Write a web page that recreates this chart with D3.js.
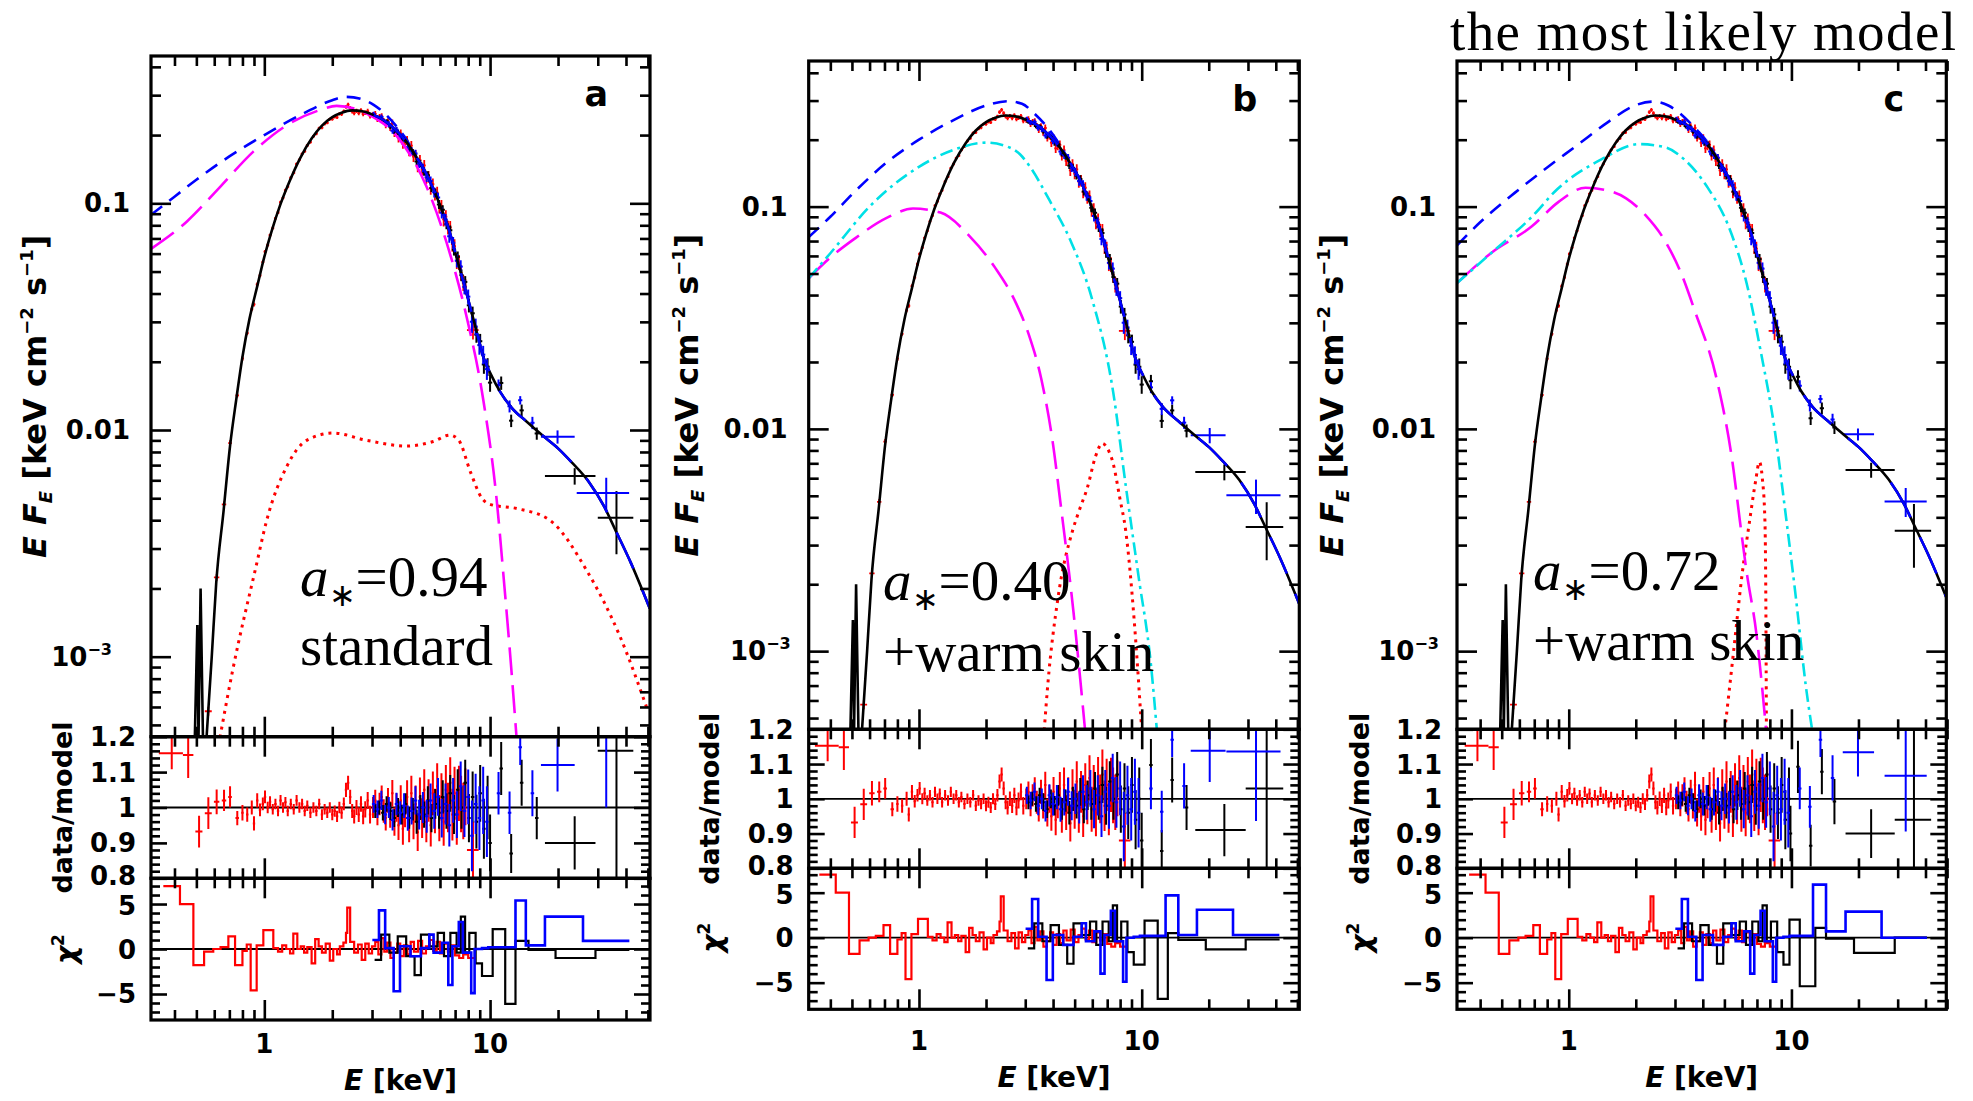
<!DOCTYPE html>
<html>
<head>
<meta charset="utf-8">
<script src="https://cdn.jsdelivr.net/npm/d3@7/dist/d3.min.js"></script>
<style>
html,body{margin:0;padding:0;background:#fff;}
svg{display:block;}
</style>
</head>
<body>
<svg id="chart" width="1973" height="1101"></svg>
<script>
// ======================= DATA =======================
const panelIds = ["a", "b", "c"];
const spinValues = ["0.94", "0.40", "0.72"];
const modelNames = ["standard", "+warm skin", "+warm skin"];
const figureTitle = "the most likely model";

const xMajorTicks = [1, 10];
const xMajorLabels = ["1", "10"];
const xMinorTicks = [0.4,0.5,0.6,0.7,0.8,0.9,2,3,4,5,6,7,8,9,20,30,40,50];
const fluxMajorTicks = [0.001, 0.01, 0.1];
const fluxMajorLabels = [["10","−3"], ["0.01",""], ["0.1",""]];
const ratioMajorTicks = [0.8, 0.9, 1.0, 1.1, 1.2];
const ratioMajorLabels = ["0.8","0.9","1","1.1","1.2"];
const chiMajorTicks = [-5, 0, 5];
const chiMajorLabels = ["−5","0","5"];

// total absorbed model, same in all panels  [E (keV), E F_E]
const modelTotal = [[0.555,4.43e-4],[0.585,1.0e-3],[0.612,2.1e-3],[0.66,4.4e-3],[0.705,8.5e-3],[0.75,0.0135],[0.80,0.021],[0.86,0.031],[0.93,0.043],[1.0,0.058],[1.08,0.076],[1.17,0.097],[1.28,0.122],[1.44,0.158],[1.62,0.193],[1.8,0.220],[2.0,0.240],[2.2,0.251],[2.45,0.257],[2.75,0.254],[3.05,0.245],[3.4,0.232],[3.8,0.212],[4.2,0.19],[4.7,0.161],[5.2,0.136],[5.6,0.116],[6.1,0.094],[6.64,0.074],[7.2,0.055],[7.87,0.040],[8.5,0.030],[9.33,0.021],[10.2,0.0172],[11.05,0.0148],[12.5,0.0125],[14.5,0.0109],[17.2,0.0094],[20,0.0083],[23,0.0072],[27.4,0.0059],[32,0.0046],[36,0.0036],[42,0.0026],[51,0.00163]];
// absorption-edge spikes of the model at low energy
const modelEdgeSpikes = [[0.492,4.3e-4],[0.505,1.38e-3],[0.511,4.3e-4],[0.522,2.0e-3],[0.535,4.3e-4]];

// unabsorbed total (blue dashed)
const unabsorbedA = [[0.315,0.089],[0.4,0.107],[0.5,0.127],[0.7,0.161],[1.0,0.2],[1.5,0.25],[2.0,0.285],[2.3,0.295],[2.7,0.288],[3.05,0.272],[3.4,0.250],[3.8,0.222],[4.2,0.195],[4.7,0.162]];
const unabsorbedB = [[0.32,0.073],[0.4,0.09],[0.507,0.115],[0.716,0.158],[1.0,0.2],[1.43,0.245],[2.0,0.285],[2.5,0.298],[2.9,0.29],[3.3,0.262],[3.8,0.225],[4.2,0.196],[4.7,0.162]];
const unabsorbedC = [[0.315,0.067],[0.4,0.085],[0.57,0.115],[0.8,0.15],[1.1,0.19],[1.5,0.24],[1.98,0.285],[2.4,0.297],[2.8,0.285],[3.2,0.26],[3.7,0.225],[4.2,0.195],[4.7,0.162]];

// disc component (magenta long dash)
const diskA = [[0.315,0.063],[0.453,0.083],[0.636,0.118],[0.894,0.169],[1.257,0.221],[1.765,0.258],[2.09,0.269],[2.84,0.249],[3.99,0.19],[5.24,0.118],[6.43,0.0667],[7.87,0.0316],[9.34,0.0135],[10.7,4.9e-3],[11.5,2.2e-3],[12.4,9e-4],[13.1,4.4e-4]];
const diskB = [[0.32,0.0476],[0.4,0.059],[0.507,0.071],[0.716,0.089],[0.94,0.098],[1.25,0.094],[1.69,0.0735],[2.2,0.053],[2.73,0.0367],[3.11,0.0266],[3.54,0.0168],[4.0,0.0085],[4.3,0.0048],[4.94,0.0015],[5.57,4.4e-4]];
const diskC = [[0.315,0.0453],[0.45,0.062],[0.683,0.0815],[0.9,0.105],[1.19,0.1216],[1.5,0.118],[1.81,0.109],[2.2,0.092],[2.7,0.0703],[3.2,0.05],[3.68,0.034],[4.6,0.017],[5.5,0.0065],[5.86,3.9e-3],[6.28,2.3e-3],[6.96,1.2e-3],[7.7,4.4e-4]];

// warm skin component (cyan dash-dot)
const skinB = [[0.32,0.0476],[0.4,0.0617],[0.6,0.1],[1.0,0.151],[1.43,0.18],[2.0,0.194],[2.5,0.186],[2.84,0.172],[3.11,0.154],[3.87,0.106],[4.8,0.070],[5.98,0.0385],[7.45,0.0146],[8.49,0.0055],[9.66,0.0022],[11.0,8.7e-4],[11.7,4.4e-4]];
const skinC = [[0.315,0.0453],[0.45,0.062],[0.683,0.09],[0.89,0.12],[1.4,0.163],[2.07,0.191],[2.7,0.185],[3.37,0.16],[4.2,0.122],[5.26,0.08],[6.3,0.045],[7.3,0.022],[8.4,0.01],[9.4,4.2e-3],[10.5,1.7e-3],[11.6,7e-4],[12.4,4.4e-4]];

// reflection / line component (red dotted)
const lineA = [[0.636,4.4e-4],[0.724,8.7e-4],[0.919,2.5e-3],[1.025,4.0e-3],[1.257,6.9e-3],[1.54,9.0e-3],[2.02,9.7e-3],[2.84,9.0e-3],[4.27,8.5e-3],[5.6,8.9e-3],[6.64,9.5e-3],[7.27,9.0e-3],[8.2,6.5e-3],[9.2,5.0e-3],[10.0,4.7e-3],[13.2,4.5e-3],[18.4,4.0e-3],[26.8,2.4e-3],[37.6,1.23e-3],[50.2,5.7e-4]];
const lineB = [[3.65,4.4e-4],[3.78,6.9e-4],[4.21,1.74e-3],[4.9,3.5e-3],[5.2,4.2e-3],[5.72,5.5e-3],[6.2,7.5e-3],[6.65,8.6e-3],[7.0,8.2e-3],[7.44,7.0e-3],[8.0,4.8e-3],[8.47,3.5e-3],[9.25,1.38e-3],[9.86,5.5e-4],[10.0,4.4e-4]];
const lineC = [[5.02,4.4e-4],[5.5,1.0e-3],[6.0,2.2e-3],[6.5,3.9e-3],[6.9,5.8e-3],[7.18,7.1e-3],[7.4,6.0e-3],[7.6,3.9e-3],[7.68,1.5e-3],[7.72,4.4e-4]];

// data/model ratio points  [E, ratio, error, Elow, Ehigh]
const ratioRed = [
 [0.389,1.153,0.045,0.341,0.436],[0.46,1.148,0.065,0.436,0.485],[0.514,0.932,0.045,0.495,0.532],[0.565,0.984,0.045,0.545,0.585],
 [0.615,1.016,0.035,0.598,0.632],[0.663,1.02,0.03,0.648,0.678],[0.705,1.03,0.03,0.692,0.718],[0.759,0.97,0.02,0.745,0.772],
 [0.80,0.985,0.022],[0.84,0.98,0.02],[0.88,1.0,0.02],[0.90,0.955,0.02],[0.93,1.02,0.02],[0.957,0.993,0.018],[0.985,1.01,0.018],
 [1.007,1.03,0.018],[1.035,1.0,0.016],[1.06,1.016,0.016],[1.09,0.995,0.015],[1.12,1.01,0.015],[1.15,0.99,0.015],[1.18,1.02,0.015],
 [1.21,1.0,0.015],[1.24,1.015,0.015],[1.27,0.99,0.015],[1.31,1.01,0.015],[1.35,0.995,0.015],[1.39,1.02,0.015],[1.43,1.0,0.015],
 [1.47,1.01,0.015],[1.51,0.99,0.015],[1.55,1.005,0.015],[1.6,0.985,0.015],[1.65,1.0,0.015],[1.7,0.99,0.015],[1.75,1.01,0.015],
 [1.8,0.98,0.015],[1.85,0.995,0.015],[1.9,0.985,0.015],[1.95,1.0,0.015],[2.0,0.98,0.016],[2.05,0.99,0.016],[2.1,0.975,0.016],
 [2.15,1.0,0.016],[2.2,0.985,0.017],[2.25,1.01,0.018],[2.3,1.05,0.02],[2.35,1.07,0.02],[2.4,1.03,0.02],[2.45,0.99,0.02],
 [2.5,0.975,0.02],[2.56,1.0,0.021],[2.62,0.98,0.021],[2.68,1.01,0.022],[2.74,0.975,0.022],[2.8,0.995,0.023],[2.87,1.02,0.024],
 [2.94,0.98,0.025],[3.03,1.00,0.03],[3.10,1.02,0.03],[3.17,0.98,0.03],[3.24,1.01,0.032],[3.31,1.03,0.032],[3.38,0.99,0.033],
 [3.45,0.97,0.035],[3.53,1.02,0.035],[3.61,0.98,0.037],[3.69,1.04,0.038],[3.77,0.96,0.04],[3.85,1.00,0.04],[3.93,0.95,0.042],
 [4.02,1.02,0.043],[4.11,0.94,0.045],[4.20,0.99,0.046],[4.29,1.03,0.047],[4.38,0.95,0.048],[4.48,1.04,0.05],[4.58,0.96,0.05],
 [4.68,1.01,0.052],[4.78,0.93,0.053],[4.89,1.03,0.055],[5.00,0.97,0.056],[5.11,1.05,0.058],[5.22,0.96,0.058],[5.34,1.02,0.06],
 [5.46,0.95,0.06],[5.58,1.04,0.062],[5.70,0.99,0.063],[5.83,1.06,0.065],[5.96,0.97,0.065],[6.09,1.03,0.067],[6.23,0.96,0.068],
 [6.37,1.05,0.07],[6.51,1.00,0.07],[6.66,1.07,0.072],[6.81,0.98,0.073],[6.96,1.04,0.075],[7.12,0.97,0.075],[7.28,1.04,0.078],
 [7.44,1.01,0.08],[7.61,0.99,0.08],[7.78,1.03,0.08],[8.4,0.88,0.08,7.9,8.9]
];
const ratioBlack = [
 [3.10,0.99,0.02],[3.22,1.00,0.02],[3.35,0.985,0.022],[3.48,1.01,0.022],[3.62,0.99,0.025],[3.76,0.97,0.025],[3.91,1.00,0.027],
 [4.06,0.98,0.028],[4.22,1.01,0.03],[4.38,0.97,0.03],[4.55,0.995,0.032],[4.73,0.96,0.034],[4.91,1.00,0.035],[5.10,0.98,0.037],
 [5.30,1.02,0.04],[5.50,0.97,0.04],[5.72,1.01,0.042],[5.94,0.985,0.045],[6.17,1.03,0.047],[6.41,0.99,0.05],[6.66,1.04,0.052],
 [6.92,0.98,0.055],[7.19,1.05,0.058],[7.47,1.00,0.06],[7.76,1.07,0.065],[8.06,0.97,0.068],[8.37,1.03,0.072],[8.70,0.96,0.076],
 [9.04,1.04,0.08],[9.39,0.94,0.085],[9.75,1.0,0.09]
];
const ratioBlue = [
 [3.05,1.01,0.025],[3.17,0.995,0.025],[3.30,1.02,0.027],[3.43,0.98,0.027],[3.56,1.00,0.03],[3.70,0.965,0.03],[3.85,1.01,0.032],
 [4.00,0.985,0.033],[4.16,1.005,0.035],[4.32,0.97,0.036],[4.49,0.99,0.038],[4.67,1.02,0.04],[4.85,0.98,0.042],[5.04,1.00,0.044],
 [5.24,0.975,0.046],[5.45,1.02,0.048],[5.66,0.99,0.05],[5.88,1.03,0.053],[6.11,0.97,0.055],[6.35,1.01,0.058],[6.60,0.95,0.06],
 [6.86,1.02,0.063],[7.13,0.98,0.066],[7.41,1.06,0.07],[7.70,0.99,0.073],[8.00,1.03,0.077],[8.31,0.92,0.1],[8.63,1.01,0.085],
 [8.97,0.97,0.09],[9.32,1.02,0.095],[9.68,0.96,0.1]
];
const ratioBlackHighA = [[10.0,0.90,0.08],[11.2,1.11,0.075],[12.4,0.87,0.055],[13.8,1.07,0.065],[16.1,0.97,0.06],[23.7,0.90,0.075,17.5,29.3],[36.3,1.16,0.36,30.0,43.1]];
const ratioBlackHighB = [[10.0,0.88,0.08],[11.0,1.097,0.075],[12.3,0.85,0.06],[13.7,1.054,0.065],[15.9,0.975,0.065],[23.5,0.91,0.075,17.4,29.3],[36.4,1.03,0.3,29.3,43.2]];
const ratioBlackHighC = [[9.9,0.90,0.08],[10.7,1.092,0.075],[12.2,0.865,0.06],[13.7,1.078,0.065],[15.6,0.992,0.065],[22.8,0.90,0.07,17.5,29.1],[35.5,0.94,0.3,29.1,42.4]];
const ratioBlueHighA = [[10.9,1.04,0.06],[12.2,0.985,0.06],[13.6,1.17,0.05],[15.4,1.04,0.065],[19.9,1.12,0.075,16.8,23.7],[32.7,1.2,0.2,24.2,41.3]];
const ratioBlueHighB = [[11.0,1.03,0.06],[12.3,0.963,0.06],[13.7,1.17,0.05],[15.5,1.037,0.065],[20.2,1.138,0.09,16.6,23.8],[32.6,1.136,0.2,24.0,42.0]];
const ratioBlueHighC = [[10.9,1.03,0.06],[12.1,0.977,0.06],[13.5,1.17,0.05],[15.3,1.06,0.065],[19.9,1.134,0.07,17.0,23.5],[32.6,1.066,0.16,26.2,40.5]];

// chi-square contributions (histograms)  [E bin start, value]
const chiRed = [[0.357,7.0],[0.423,5.0],[0.485,-1.8],[0.541,-0.3],[0.594,0.0],[0.64,0.2],[0.693,1.4],[0.742,-1.8],[0.80,-0.2],[0.836,0.5],[0.87,-4.6],[0.925,0.4],[0.99,2.1],[1.096,0.1],[1.15,-0.3],[1.2,0.4],[1.25,0.0],[1.30,-0.5],[1.344,1.7],[1.40,0.0],[1.45,0.3],[1.5,-0.4],[1.55,0.2],[1.62,-1.6],[1.68,1.1],[1.74,0.3],[1.80,-0.4],[1.87,0.6],[1.95,-1.3],[2.02,0.0],[2.1,-0.6],[2.16,0.3],[2.24,0.7],[2.30,1.8],[2.33,4.6],[2.40,0.8],[2.5,-0.4],[2.6,0.5],[2.7,-1.2],[2.8,0.6],[2.9,-0.5],[3.0,0.3],[3.1,0.8],[3.2,-0.6],[3.3,1.2],[3.4,-0.3],[3.5,0.7],[3.62,-1.0],[3.75,-0.4],[3.88,0.6],[4.0,-0.8],[4.15,0.4],[4.3,-0.6],[4.45,0.8],[4.6,-0.3],[4.8,0.9],[5.0,-0.5],[5.2,0.3],[5.4,1.0],[5.6,-0.2],[5.8,0.8],[6.0,-0.5],[6.25,0.6],[6.5,-0.3],[6.75,0.4],[7.0,-0.7],[7.3,-1.0],[7.6,-0.6],[8.0,-1.0],[8.6,-1.0]];
const chiBlack = [[3.08,-1.2],[3.29,1.6],[3.58,-0.4],[3.9,1.4],[4.25,-0.8],[4.63,-2.9],[4.94,1.6],[5.38,0.3],[5.86,1.8],[6.25,-0.8],[6.67,1.8],[7.11,-0.4],[7.42,3.6],[7.75,-0.4],[8.09,1.8],[8.63,-1.6],[9.21,-3.0]];
const chiBlue = [[3.01,1.0],[3.22,4.3],[3.43,0.1],[3.74,-4.7],[3.99,0.3],[4.44,-0.8],[4.94,0.1],[5.38,1.6],[5.62,-0.4],[6.13,0.7],[6.53,-4.0],[6.81,0.3],[7.27,3.0],[7.58,-0.4],[8.25,-4.9],[8.54,0],[9.21,0.1],[9.82,0.2]];
const chiBlackHighA = [[10.27,2.2],[11.67,-6.1],[12.96,0.9],[14.8,-0.1],[19.5,-1.0],[29.3,-0.1],[41.4,-0.1]];
const chiBlackHighB = [[10.3,1.9],[11.8,-6.8],[13.1,0.5],[14.6,-0.25],[19.4,-1.3],[29.3,-0.2],[41.6,-0.2]];
const chiBlackHighC = [[9.8,2.0],[10.9,-5.4],[12.8,1.1],[14.3,-0.1],[19.1,-1.7],[29.1,0.0],[40.6,0.0]];
const chiBlueHighA = [[12.96,5.4],[14.4,0.4],[17.5,3.6],[25.8,0.9],[41.4,0.9]];
const chiBlueHighB = [[12.8,4.7],[14.6,0.3],[17.7,3.1],[25.7,0.3],[41.5,0.3]];
const chiBlueHighC = [[12.5,5.9],[14.3,0.7],[17.5,2.9],[25.4,0.0],[40.6,0.0]];

const unabsorbedByPanel = [unabsorbedA, unabsorbedB, unabsorbedC];
const diskByPanel = [diskA, diskB, diskC];
const skinByPanel = [null, skinB, skinC];
const lineByPanel = [lineA, lineB, lineC];
const ratioBlackHighByPanel = [ratioBlackHighA, ratioBlackHighB, ratioBlackHighC];
const ratioBlueHighByPanel = [ratioBlueHighA, ratioBlueHighB, ratioBlueHighC];
const chiBlackHighByPanel = [chiBlackHighA, chiBlackHighB, chiBlackHighC];
const chiBlueHighByPanel = [chiBlueHighA, chiBlueHighB, chiBlueHighC];

// ======================= LAYOUT =======================
const layout = [
 {left:151, right:650, top:56, mainBot:736.7, ratioBot:878.3, chiBot:1020, xDom:[0.3148,51.1], yDom:[4.436e-4,0.4466], chiDom:[-7.89,7.86],
  ylabX:46, dmX:72, chiX:76, expOff:39, tickBase:1053, xlabBase:1090, annX:300, annY1:596, annY2:665},
 {left:808.7, right:1299.3, top:61, mainBot:729.3, ratioBot:868.3, chiBot:1009.3, xDom:[0.3198,51.0], yDom:[4.45e-4,0.452], chiDom:[-7.96,7.71],
  ylabX:698, dmX:719, chiX:722, expOff:18, tickBase:1050, xlabBase:1087, annX:883, annY1:600, annY2:671},
 {left:1457, right:1946.3, top:61, mainBot:729.3, ratioBot:868.3, chiBot:1009.3, xDom:[0.3149,49.6], yDom:[4.45e-4,0.452], chiDom:[-7.96,7.71],
  ylabX:1343, dmX:1369, chiX:1371, expOff:18, tickBase:1050, xlabBase:1087, annX:1533, annY1:590, annY2:660}
];

const COL = {red:"#ff0000", blue:"#0000ff", magenta:"#ff00ff", cyan:"#00e0e6", black:"#000"};
const AXFONT = "DejaVu Sans, Verdana, sans-serif";
const SERIF = "Liberation Serif, Times New Roman, serif";

const svg = d3.select("#chart");
const defs = svg.append("defs");
svg.append("rect").attr("width",1973).attr("height",1101).attr("fill","#fff");

function interpLogLog(table, E) {
  const n = table.length;
  if (E < table[0][0] || E > table[n-1][0]) return null;
  for (let i = 0; i < n - 1; i++) {
    const a = table[i], b = table[i+1];
    if (E >= a[0] && E <= b[0]) {
      const t = (Math.log(E) - Math.log(a[0])) / (Math.log(b[0]) - Math.log(a[0]));
      return Math.exp(Math.log(a[1]) + t * (Math.log(b[1]) - Math.log(a[1])));
    }
  }
  return null;
}

function drawCrosses(layer, pts, color, x, yf, sw, halfW) {
  const g = layer.append("g").attr("stroke", color).attr("stroke-width", sw).attr("fill","none");
  pts.forEach(p => {
    const E = p[0], r = p[1], err = p[2];
    const eL = p.length > 3 ? p[3] : E / halfW;
    const eH = p.length > 4 ? p[4] : E * halfW;
    const v = yf(E, r, err);
    if (!v) return;
    g.append("line").attr("x1", x(eL)).attr("x2", x(eH)).attr("y1", v.y).attr("y2", v.y);
    g.append("line").attr("x1", x(E)).attr("x2", x(E)).attr("y1", v.y0).attr("y2", v.y1);
  });
}

function ticks(g, gen, scale, tr, vals, len, sw) {
  g.append("g").attr("transform", tr)
    .call(gen(scale).tickValues(vals).tickSize(-len).tickFormat(""))
    .call(s => s.select(".domain").remove())
    .call(s => s.selectAll("line").attr("stroke","#000").attr("stroke-width", sw));
}

// title
svg.append("text").attr("x", 1450).attr("y", 50).attr("font-family", SERIF).attr("font-size", 55)
  .attr("textLength", 506).attr("lengthAdjust", "spacing")
  .attr("fill","#000").text(figureTitle);

layout.forEach((P, i) => {
  const g = svg.append("g");
  const W = P.right - P.left;
  const x = d3.scaleLog().domain(P.xDom).range([P.left, P.right]);
  const yM = d3.scaleLog().domain(P.yDom).range([P.mainBot, P.top]);
  const yR = d3.scaleLinear().domain([0.8, 1.2]).range([P.ratioBot, P.mainBot]);
  const yC = d3.scaleLinear().domain(P.chiDom).range([P.chiBot, P.ratioBot]);

  const clip = (id, y0, y1) => {
    defs.append("clipPath").attr("id", id).append("rect")
      .attr("x", P.left).attr("y", y0).attr("width", W).attr("height", y1 - y0);
    return `url(#${id})`;
  };
  const clipM = clip("cm" + i, P.top, P.mainBot);
  const clipR = clip("cr" + i, P.mainBot, P.ratioBot);
  const clipC = clip("cc" + i, P.ratioBot, P.chiBot);

  // ---------- main panel ----------
  const main = g.append("g").attr("clip-path", clipM);
  const lineGen = d3.line().x(d => x(d[0])).y(d => yM(d[1])).curve(d3.curveMonotoneX);

  const yfMain = (E, r, err) => {
    const m = interpLogLog(modelTotal, E);
    if (!m) return null;
    return {y: yM(m * r), y0: yM(m * Math.max(r - err, 0.05)), y1: yM(m * (r + err))};
  };
  drawCrosses(main, ratioRed, COL.red, x, yfMain, 1.8, 1.015);
  drawCrosses(main, ratioBlack.concat(ratioBlackHighByPanel[i]), COL.black, x, yfMain, 2, 1.022);
  drawCrosses(main, ratioBlue.concat(ratioBlueHighByPanel[i]), COL.blue, x, yfMain, 2, 1.022);

  main.append("path").attr("d", lineGen(lineByPanel[i])).attr("fill","none")
    .attr("stroke", COL.red).attr("stroke-width", 3).attr("stroke-dasharray","3,5");
  main.append("path").attr("d", lineGen(diskByPanel[i])).attr("fill","none")
    .attr("stroke", COL.magenta).attr("stroke-width", 2.6).attr("stroke-dasharray","28,10");
  if (skinByPanel[i]) {
    main.append("path").attr("d", lineGen(skinByPanel[i])).attr("fill","none")
      .attr("stroke", COL.cyan).attr("stroke-width", 2.6).attr("stroke-dasharray","13,5,3,5");
  }
  main.append("path").attr("d", lineGen(unabsorbedByPanel[i])).attr("fill","none")
    .attr("stroke", COL.blue).attr("stroke-width", 2.6).attr("stroke-dasharray","14,9");
  main.append("path").attr("d", lineGen(modelTotal)).attr("fill","none")
    .attr("stroke", COL.black).attr("stroke-width", 2.6);
  main.append("path").attr("d", lineGen(modelTotal.filter(d => d[0] >= 3.05))).attr("fill","none")
    .attr("stroke", COL.blue).attr("stroke-width", 2.6).attr("stroke-dasharray","40,22");
  main.append("path").attr("d", d3.line().x(d => x(d[0])).y(d => yM(d[1]))(modelEdgeSpikes))
    .attr("fill","none").attr("stroke", COL.black).attr("stroke-width", 2.6);

  // ---------- ratio panel ----------
  const rat = g.append("g").attr("clip-path", clipR);
  rat.append("line").attr("x1", P.left).attr("x2", P.right).attr("y1", yR(1)).attr("y2", yR(1))
    .attr("stroke","#000").attr("stroke-width", 1.8);
  const yfRat = (E, r, err) => ({y: yR(r), y0: yR(r - err), y1: yR(r + err)});
  drawCrosses(rat, ratioRed, COL.red, x, yfRat, 2, 1.012);
  drawCrosses(rat, ratioBlack.concat(ratioBlackHighByPanel[i]), COL.black, x, yfRat, 2, 1.018);
  drawCrosses(rat, ratioBlue.concat(ratioBlueHighByPanel[i]), COL.blue, x, yfRat, 2, 1.018);

  // ---------- chi panel ----------
  const chi = g.append("g").attr("clip-path", clipC);
  chi.append("line").attr("x1", P.left).attr("x2", P.right).attr("y1", yC(0)).attr("y2", yC(0))
    .attr("stroke","#000").attr("stroke-width", 1.8);
  const step = d3.line().x(d => x(d[0])).y(d => yC(d[1])).curve(d3.curveStepAfter);
  chi.append("path").attr("d", step(chiRed)).attr("fill","none").attr("stroke", COL.red).attr("stroke-width", 2.2);
  chi.append("path").attr("d", step(chiBlack.concat(chiBlackHighByPanel[i]))).attr("fill","none").attr("stroke", COL.black).attr("stroke-width", 2.2);
  chi.append("path").attr("d", step(chiBlue.concat(chiBlueHighByPanel[i]))).attr("fill","none").attr("stroke", COL.blue).attr("stroke-width", 2.6);

  // ---------- ticks ----------
  const fluxMinor = [];
  [1e-4, 1e-3, 1e-2, 1e-1].forEach(d => [2,3,4,5,6,7,8,9].forEach(k => {
    const v = d * k; if (v > P.yDom[0] && v < P.yDom[1]) fluxMinor.push(v);
  }));
  const ratioMinor = d3.range(0.82, 1.2, 0.02).filter(v => Math.abs(v*10 - Math.round(v*10)) > 0.01);
  const chiMinor = d3.range(-7, 8, 1).filter(v => v % 5 !== 0);

  [[P.top, P.mainBot], [P.mainBot, P.ratioBot], [P.ratioBot, P.chiBot]].forEach(([t, b]) => {
    ticks(g, d3.axisBottom, x, `translate(0,${b})`, xMajorTicks, 20, 2.6);
    ticks(g, d3.axisBottom, x, `translate(0,${b})`, xMinorTicks, 10, 2.6);
    ticks(g, d3.axisTop, x, `translate(0,${t})`, xMajorTicks, 20, 2.6);
    ticks(g, d3.axisTop, x, `translate(0,${t})`, xMinorTicks, 10, 2.6);
  });
  ticks(g, d3.axisLeft, yM, `translate(${P.left},0)`, fluxMajorTicks, 20, 2.6);
  ticks(g, d3.axisLeft, yM, `translate(${P.left},0)`, fluxMinor, 10, 2.6);
  ticks(g, d3.axisRight, yM, `translate(${P.right},0)`, fluxMajorTicks, 20, 2.6);
  ticks(g, d3.axisRight, yM, `translate(${P.right},0)`, fluxMinor, 10, 2.6);
  ticks(g, d3.axisLeft, yR, `translate(${P.left},0)`, ratioMajorTicks, 16, 2.6);
  ticks(g, d3.axisLeft, yR, `translate(${P.left},0)`, ratioMinor, 9, 2.6);
  ticks(g, d3.axisRight, yR, `translate(${P.right},0)`, ratioMajorTicks, 16, 2.6);
  ticks(g, d3.axisRight, yR, `translate(${P.right},0)`, ratioMinor, 9, 2.6);
  ticks(g, d3.axisLeft, yC, `translate(${P.left},0)`, chiMajorTicks, 16, 2.6);
  ticks(g, d3.axisLeft, yC, `translate(${P.left},0)`, chiMinor, 9, 2.6);
  ticks(g, d3.axisRight, yC, `translate(${P.right},0)`, chiMajorTicks, 16, 2.6);
  ticks(g, d3.axisRight, yC, `translate(${P.right},0)`, chiMinor, 9, 2.6);

  // frames
  [[P.top, P.mainBot], [P.mainBot, P.ratioBot], [P.ratioBot, P.chiBot]].forEach(([t, b]) => {
    g.append("rect").attr("x", P.left).attr("y", t).attr("width", W).attr("height", b - t)
      .attr("fill","none").attr("stroke","#000").attr("stroke-width", 3.2);
  });

  // ---------- labels ----------
  const lab = g.append("g").attr("font-family", AXFONT).attr("font-weight","bold").attr("fill","#000");
  fluxMajorTicks.forEach((v, k) => {
    const L = fluxMajorLabels[k];
    const t = lab.append("text").attr("text-anchor","end").attr("font-size", 26)
      .attr("x", P.left - (L[1] ? P.expOff : 21)).attr("y", yM(v) + 9);
    t.append("tspan").text(L[0]);
    if (L[1]) t.append("tspan").attr("font-size", 16).attr("dy", -11).text(L[1]);
  });
  ratioMajorTicks.forEach((v, k) => {
    lab.append("text").attr("text-anchor","end").attr("font-size", 26)
      .attr("x", P.left - 15).attr("y", yR(v) + (v === 0.8 ? 7 : 9.5)).text(ratioMajorLabels[k]);
  });
  chiMajorTicks.forEach((v, k) => {
    lab.append("text").attr("text-anchor","end").attr("font-size", 26)
      .attr("x", P.left - 15).attr("y", yC(v) + (v === 5 ? 11 : 9.5)).text(chiMajorLabels[k]);
  });
  xMajorTicks.forEach((v, k) => {
    lab.append("text").attr("text-anchor","middle").attr("font-size", 26)
      .attr("x", x(v)).attr("y", P.tickBase).text(xMajorLabels[k]);
  });
  const xl = lab.append("text").attr("text-anchor","middle").attr("font-size", 28)
    .attr("x", (P.left + P.right) / 2).attr("y", P.xlabBase);
  xl.append("tspan").attr("font-style","italic").text("E");
  xl.append("tspan").text(" [keV]");

  const yl = lab.append("text").attr("text-anchor","middle").attr("font-size", 32)
    .attr("transform", `translate(${P.ylabX},${(P.top + P.mainBot) / 2}) rotate(-90)`);
  yl.append("tspan").attr("font-style","italic").text("E F");
  yl.append("tspan").attr("font-style","italic").attr("font-size", 18).attr("dy", 6).text("E");
  yl.append("tspan").attr("dy", -6).text(" [keV cm");
  yl.append("tspan").attr("font-size", 18).attr("dy", -13).text("−2");
  yl.append("tspan").attr("dy", 13).text(" s");
  yl.append("tspan").attr("font-size", 18).attr("dy", -13).text("−1");
  yl.append("tspan").attr("dy", 13).text("]");

  lab.append("text").attr("text-anchor","middle").attr("font-size", 27)
    .attr("transform", `translate(${P.dmX},${(P.mainBot + P.ratioBot) / 2}) rotate(-90)`).text("data/model");
  const cl = lab.append("text").attr("text-anchor","middle").attr("font-size", 28)
    .attr("transform", `translate(${P.chiX},${yC(0)}) rotate(-90)`);
  cl.append("tspan").attr("font-style","italic").text("χ");
  cl.append("tspan").attr("font-size", 17).attr("dy", -12).text("2");

  lab.append("text").attr("text-anchor","end").attr("font-size", 35)
    .attr("x", P.right - 42).attr("y", P.top + 50).text(panelIds[i]);

  // annotation
  const an = g.append("text").attr("font-family", SERIF).attr("font-size", 57).attr("fill","#000")
    .attr("x", P.annX).attr("y", P.annY1);
  an.append("tspan").attr("font-style","italic").text("a");
  an.append("tspan").attr("font-size", 32).attr("dy", 10).text("∗");
  an.append("tspan").attr("dy", -10).text("=" + spinValues[i]);
  g.append("text").attr("font-family", SERIF).attr("font-size", 57).attr("fill","#000")
    .attr("x", P.annX).attr("y", P.annY2).text(modelNames[i]);
});
</script>
</body>
</html>
